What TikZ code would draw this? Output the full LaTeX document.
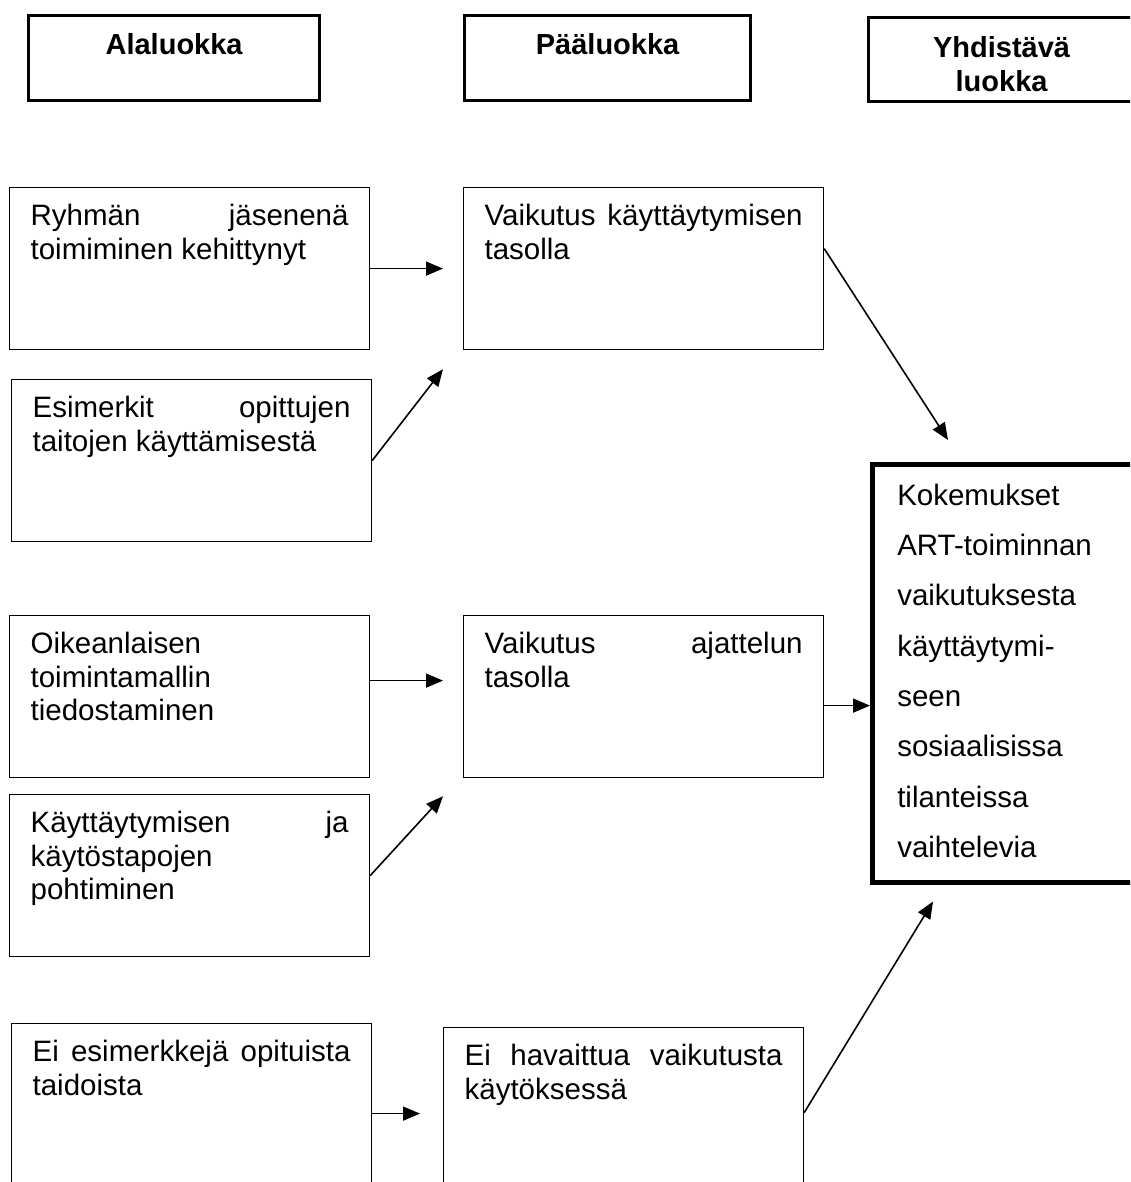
\documentclass[tikz,border=0pt]{standalone}
\usepackage{fontspec}
\setmainfont{Liberation Sans}
\usetikzlibrary{arrows.meta}
\tolerance=10000
\hbadness=10000
\begin{document}
\begin{tikzpicture}[x=1pt,y=-1pt,
  head/.style={draw,line width=3.2pt,anchor=north west,inner xsep=0pt,inner ysep=17pt,
    text height=22pt,text depth=29pt,align=center,font=\fontsize{29}{34}\selectfont\bfseries},
  box/.style={draw,line width=1.2pt,anchor=north west,text width=318pt,inner xsep=21pt,inner ysep=17pt,
    text height=21pt,text depth=107pt,align=justify,font=\fontsize{29.5}{33.5}\selectfont},
  arr/.style={-{Triangle[length=17pt,width=14pt]},line width=1.6pt}]
  \clip (0,0) rectangle (1130,1182);
  \node[head,text width=291pt] (ala) at (27,14) {Alaluokka};
  \node[head,text width=286pt] (paa) at (463,14) {Pääluokka};
  \node[head,text width=266pt,text height=23pt,text depth=27pt] (yhd) at (867,16) {Yhdistävä\\luokka};

  \node[box] (ryhma) at (9,187) {Ryhmän jäsenenä\linebreak toimiminen kehittynyt};
  \node[box] (esim) at (11,379) {Esimerkit opittujen\linebreak taitojen käyttämisestä};
  \node[box] (oike) at (9,615) {Oikeanlaisen\\toimintamallin\\tiedostaminen};
  \node[box] (kayt) at (9,794) {Käyttäytymisen ja\linebreak käytöstapojen\\pohtiminen};
  \node[box] (eiesim) at (11,1023) {Ei esimerkkejä opituista\linebreak taidoista};

  \node[box] (kaytt) at (463,187) {Vaikutus käyttäytymisen\linebreak tasolla};
  \node[box] (ajat) at (463,615) {Vaikutus ajattelun\linebreak tasolla};
  \node[box] (eihav) at (443,1027) {Ei havaittua vaikutusta\linebreak käytöksessä};

  \node[box,line width=4.5pt,text width=250pt,inner xsep=25pt,text height=24pt,text depth=360pt,
    align=left,font=\fontsize{29.5}{50.3}\selectfont] (koke) at (870,462)
    {Kokemukset\\ART-toiminnan\\vaikutuksesta\\käyttäytymi-\\seen\\sosiaalisissa\\tilanteissa\\vaihtelevia};

  \draw[arr] (ryhma.east) -- ([xshift=-20pt]kaytt.west);
  \draw[arr] (esim.east) -- ([shift={(-20,19)}]kaytt.south west);
  \draw[arr] ([yshift=20pt]kaytt.east) -- ([shift={(78,-22)}]koke.north west);
  \draw[arr] ([yshift=16pt]oike.east) -- ([shift={(-20,-16)}]ajat.west);
  \draw[arr] (kayt.east) -- ([shift={(-20,18)}]ajat.south west);
  \draw[arr] ([yshift=-9pt]ajat.east) -- ([yshift=-9pt]ajat.east -| koke.west);
  \draw[arr] ([yshift=-9pt]eiesim.east) -- ([shift={(-23,5)}]eihav.west);
  \draw[arr] ([yshift=-4pt]eihav.east) -- ([shift={(63,17)}]koke.south west);
\end{tikzpicture}
\end{document}
